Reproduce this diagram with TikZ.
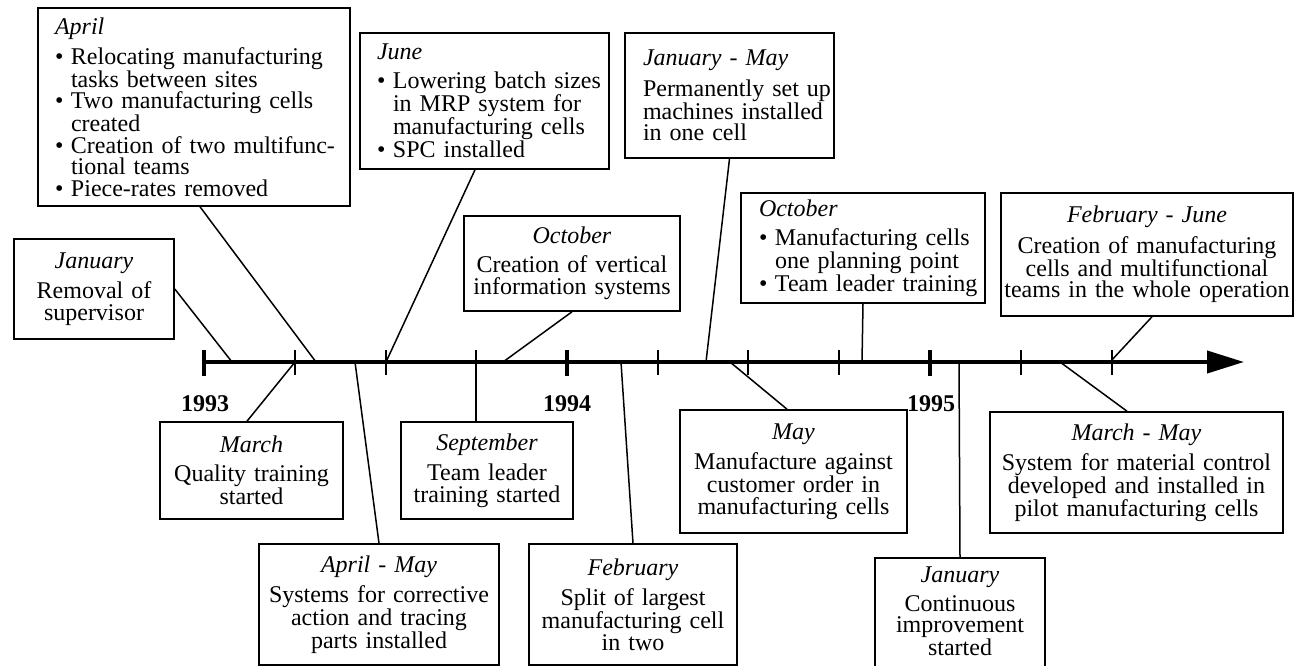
\documentclass[tikz,border=0pt]{standalone}
\usepackage{fontspec}
\setmainfont{Liberation Serif}
\usetikzlibrary{arrows.meta}
\lineskiplimit=-50pt
\newcommand\hd[1]{\textit{#1}\\[7.5pt]}
\newcommand\bl[1]{\mbox{\makebox[16pt][l]{\textbullet}#1}}
\newcommand\il[1]{\mbox{\hspace*{16pt}#1}}
\newcommand\pl[1]{\mbox{#1}}
\begin{document}
\begin{tikzpicture}[x=1pt,y=-1pt,
  every node/.style={font=\fontsize{24}{21.5}\selectfont},
  box/.style={draw, line width=1.6pt, inner ysep=0pt},
  cbox/.style={box, align=center, inner xsep=3pt},
  lbox/.style={box, align=left},
  conn/.style={line width=1.5pt},
  major/.style={line width=4pt},
  minor/.style={line width=2pt},
  year/.style={font=\fontsize{24}{21.5}\selectfont\bfseries}]
\useasboundingbox (0,0) rectangle (1301,666);
\fill[white] (0,0) rectangle (1301,666);

% timeline
\coordinate (tstart) at (204,362);
\coordinate (tend) at (1244,362);
\draw[line width=4pt, -{Triangle[length=37pt,width=22pt]}] (tstart) -- (tend);
\foreach \x in {204,567,930} \draw[major] (\x,350) -- (\x,376);
\foreach \x in {295,386,476,658,748,839,1021,1112} \draw[minor] (\x,350) -- (\x,375);

\node[year] (y93) at (205,404) {1993};
\node[year] (y94) at (567,404) {1994};
\node[year] (y95) at (931,404) {1995};

% boxes above
\node[cbox, text width=154pt, minimum height=100pt] (jan93) at (94,289)
  {\hd{January}Removal of\\supervisor};
\node[lbox, inner xsep=17pt, text width=278pt, minimum height=198pt] (apr93) at (194,107)
  {\hd{April}\bl{Relocating manufacturing}\\\il{tasks between sites}\\\bl{Two manufacturing cells}\\\il{created}\\\bl{Creation of two multifunc-}\\\il{tional teams}\\\bl{Piece-rates removed}};
\node[lbox, inner xsep=17pt, text width=215pt, minimum height=136pt] (jun93) at (484.5,101)
  {\hd{June}\bl{Lowering batch sizes}\\\il{in MRP system for}\\\il{manufacturing cells}\\\bl{SPC installed}};
\node[cbox, text width=210pt, minimum height=95pt] (oct93) at (572,263.5)
  {\hd{October}Creation of vertical\\information systems};
\node[lbox, inner xsep=18pt, text width=173pt, minimum height=125pt] (janmay94) at (729.5,95.5)
  {\hd{January - May}\pl{Permanently set up}\\\pl{machines installed}\\\pl{in one cell}};
\node[lbox, inner xsep=18pt, text width=208pt, minimum height=110pt] (oct94) at (863,248)
  {\hd{October}\bl{Manufacturing cells}\\\il{one planning point}\\\bl{Team leader training}};
\node[cbox, text width=286pt, minimum height=123pt] (febjun95) at (1147,254.5)
  {\hd{February - June}Creation of manufacturing\\cells and multifunctional\\teams in the whole operation};

% boxes below
\node[cbox, text width=177pt, minimum height=97pt] (mar93) at (251.5,470.5)
  {\hd{March}Quality training\\started};
\node[cbox, text width=166pt, minimum height=97pt] (sep93) at (487,470.5)
  {\hd{September}Team leader\\training started};
\node[cbox, text width=234pt, minimum height=121pt] (aprmay93) at (379,604.5)
  {\hd{April - May}Systems for corrective\\action and tracing\\parts installed};
\node[cbox, text width=202pt, minimum height=121pt] (feb94) at (633,604.5)
  {\hd{February}Split of largest\\manufacturing cell\\in two};
\node[cbox, text width=221pt, minimum height=123pt] (may94) at (793.5,471.5)
  {\hd{May}Manufacture against\\customer order in\\manufacturing cells};
\node[cbox, text width=164pt, minimum height=125pt, anchor=north] (jan95) at (960,557)
  {\hd{January}Continuous\\improvement\\started\\[-2.5pt]\mbox{}};
\node[cbox, text width=287pt, minimum height=121pt] (marmay95) at (1136.5,472.5)
  {\hd{March - May}System for material control\\developed and installed in\\pilot manufacturing cells};

% points on the timeline
\coordinate (pjan93) at (232,362);
\coordinate (papr93) at (316,362);
\coordinate (pmar93) at (295,362);
\coordinate (paprmay93) at (355,362);
\coordinate (pjun93) at (386,362);
\coordinate (psep93) at (476,362);
\coordinate (poct93) at (503,362);
\coordinate (pfeb94) at (621,362);
\coordinate (pjanmay94) at (706,362);
\coordinate (pmay94) at (730,362);
\coordinate (poct94) at (862,362);
\coordinate (pjan95) at (959,362);
\coordinate (pmarmay95) at (1060,362);
\coordinate (pfebjun95) at (1110,362);

% connectors
\draw[conn] (jan93.east) -- (pjan93);
\draw[conn] ([xshift=6pt]apr93.south) -- (papr93);
\draw[conn] ([xshift=-4.5pt]mar93.north) -- (pmar93);
\draw[conn] (aprmay93.north) -- (paprmay93);
\draw[conn] ([xshift=-9.5pt]jun93.south) -- (pjun93);
\draw[conn] ([xshift=-11pt]sep93.north) -- (psep93);
\draw[conn] (oct93.south) -- (poct93);
\draw[conn] (feb94.north) -- (pfeb94);
\draw[conn] (janmay94.south) -- (pjanmay94);
\draw[conn] ([xshift=-6.5pt]may94.north) -- (pmay94);
\draw[conn] (oct94.south) -- (poct94);
\draw[conn] (jan95.north) -- (pjan95);
\draw[conn] ([xshift=-9.5pt]marmay95.north) -- (pmarmay95);
\draw[conn] ([xshift=5pt]febjun95.south) -- (pfebjun95);
\end{tikzpicture}
\end{document}
